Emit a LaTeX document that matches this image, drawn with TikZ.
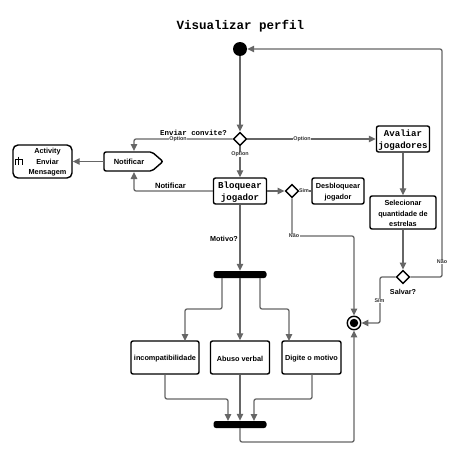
\documentclass[tikz,border=0pt]{standalone}
\usepackage{fontspec}
\setmainfont{Liberation Sans}
\newfontfamily\monof{Liberation Mono}
\usetikzlibrary{arrows.meta,shapes.geometric}
\definecolor{edgegray}{HTML}{666666}
\newcommand{\fixa}{\rule{0pt}{7.2pt}}
\newcommand{\fixb}{\rule{0pt}{8.6pt}}
\tikzset{
 x=1pt,y=-1pt,
 boxbase/.style={draw=black,line width=1.4pt,rounded corners=2pt,fill=white,inner sep=0pt,align=center,font=\bfseries\fontsize{7.3}{10.4}\selectfont,anchor=center},
 monobox/.style={boxbase,font=\monof\bfseries\fontsize{9.1}{11.5}\selectfont},
 dia/.style={draw=black,line width=1.4pt,fill=white,diamond,minimum width=13.5pt,minimum height=13.5pt,inner sep=0pt,aspect=1},
 bar/.style={fill=black,rounded corners=2.5pt,minimum width=53pt,minimum height=7pt,inner sep=0pt},
 edge/.style={draw=edgegray,line width=1.3pt,rounded corners=2pt,-{Triangle[length=7pt,width=6.5pt,fill=edgegray]}},
 plainedge/.style={draw=edgegray,line width=1.3pt,rounded corners=2pt},
 lab/.style={font=\bfseries\fontsize{7.2}{8}\selectfont,inner sep=0pt,text=black},
 monolab/.style={font=\monof\bfseries\fontsize{7.4}{9}\selectfont,inner sep=0pt},
 small/.style={font=\bfseries\fontsize{5.4}{6}\selectfont,fill=white,inner sep=0.4pt,text=black!80},
}
\begin{document}
\begin{tikzpicture}
\useasboundingbox (0,0) rectangle (461,455);
\node[font=\monof\bfseries\fontsize{12.5}{14}\selectfont,inner sep=0pt] (title) at (240.5,26.5) {Visualizar perfil};
\node[circle,fill=black,minimum size=14pt,inner sep=0pt] (start) at (240,49) {};
\node[dia] (d1) at (240,139) {};
\node[dia] (d2) at (292,191) {};
\node[dia] (d3) at (403,277) {};
\node[monobox,minimum width=53pt,minimum height=26pt] (bloq) at (240,191) {\fixb Bloquear\\jogador};
\node[monobox,minimum width=53pt,minimum height=26pt] (aval) at (403,139) {\fixb Avaliar\\jogadores};
\node[boxbase,minimum width=52pt,minimum height=26pt] (desb) at (338,191) {\fixa Desbloquear\\jogador};
\node[boxbase,minimum width=66pt,minimum height=33pt] (sel) at (403,212.5) {\fixa Selecionar\\quantidade de\\estrelas};
\node[boxbase,minimum width=59pt,minimum height=33pt,rounded corners=5pt] (act) at (42.5,161.5) {};
\node[lab,font=\bfseries\fontsize{7.3}{10.6}\selectfont,align=center] (acttext) at (47.5,162.5) {Activity\\Enviar\\Mensagem};
\draw[line width=0.8pt] (act.west)++(3,3) coordinate (ic1) -- ++(0,-5) -- ++(7,0) -- ++(0,5);
\draw[line width=0.8pt] (ic1)++(3.5,-8) -- ++(0,8);
\draw[draw=black,line width=1.4pt,rounded corners=2pt,fill=white] (104,152) -- (152,152) -- (163,161.5) -- (152,171) -- (104,171) -- cycle;
\coordinate (notW) at (104,161.5);
\coordinate (notT) at (134,151);
\coordinate (notB) at (134,172);
\node[lab,font=\bfseries\fontsize{7.5}{9}\selectfont] (notif) at (129,162) {Notificar};
\node[bar] (f1) at (240,274.5) {};
\node[bar] (f2) at (240,424.5) {};
\node[boxbase,minimum width=68pt,minimum height=33pt] (inc) at (165,357.5) {\fixa incompatibilidade};
\node[boxbase,minimum width=59pt,minimum height=33pt] (abu) at (240,357.5) {\fixa Abuso verbal};
\node[boxbase,minimum width=59pt,minimum height=33pt] (dig) at (311.5,357.5) {\fixa Digite o motivo};
\node[circle,draw=black,line width=1.4pt,fill=white,minimum size=13.5pt,inner sep=0pt] (fin) at (354,323) {};
\node[circle,fill=black,minimum size=8.5pt,inner sep=0pt] (fin2) at (354,323) {};
% connectors
\draw[edge] (start) -- (d1);
\draw[edge] (d1) -- (bloq);
\draw[edge] (d1) -- (aval);
\draw[edge] (d1.west) -| (notT);
\draw[edge] (bloq.west) -| (notB);
\draw[edge] (notW) -- (act.east);
\draw[edge] (bloq.east) -- (d2.west);
\draw[plainedge] (d2.east) -- (desb.west);
\draw[edge] (d2.south) |- (354,236) -- (fin.north);
\draw[edge] (aval.south) -- (sel.north);
\draw[edge] (sel.south) -- (d3.north);
\draw[edge] (d3.west) -- (380,277) -- (380,323) -- (fin.east);
\draw[edge] (d3.east) -- (442,277) -- (442,49) -- (start.east);
\draw[edge] (bloq.south) -- (f1.north);
\draw[edge] (222,278) -- (222,309) -- (185,309) -- (185,341);
\draw[edge] (f1.south) -- (abu.north);
\draw[edge] (260,278) -- (260,309) -- (289,309) -- (289,341);
\draw[edge] (inc.south) -- (165,399) -- (228,399) -- (228,421);
\draw[edge] (abu.south) -- (f2.north);
\draw[edge] (312,374) -- (312,399) -- (254,399) -- (254,421);
\draw[edge] (f2.south) -- (240,442) -- (354,442) -- (fin.south);
% labels
\node[monolab] (l1) at (193.5,133) {Enviar convite?};
\node[small] (o1) at (178,139) {Option};
\node[small] (o2) at (240,154.5) {Option};
\node[small] (o3) at (302,139) {Option};
\node[lab,font=\bfseries\fontsize{7.6}{9}\selectfont] (l2) at (170.5,186) {Notificar};
\node[lab] (l3) at (224,239) {Motivo?};
\node[small] (s1) at (304,191) {Sim};
\node[small] (n1) at (294,236) {Não};
\node[small] (n2) at (442,262) {Não};
\node[small] (s2) at (379.5,301) {Sim};
\node[lab] (l4) at (403,291.5) {Salvar?};
\end{tikzpicture}
\end{document}
